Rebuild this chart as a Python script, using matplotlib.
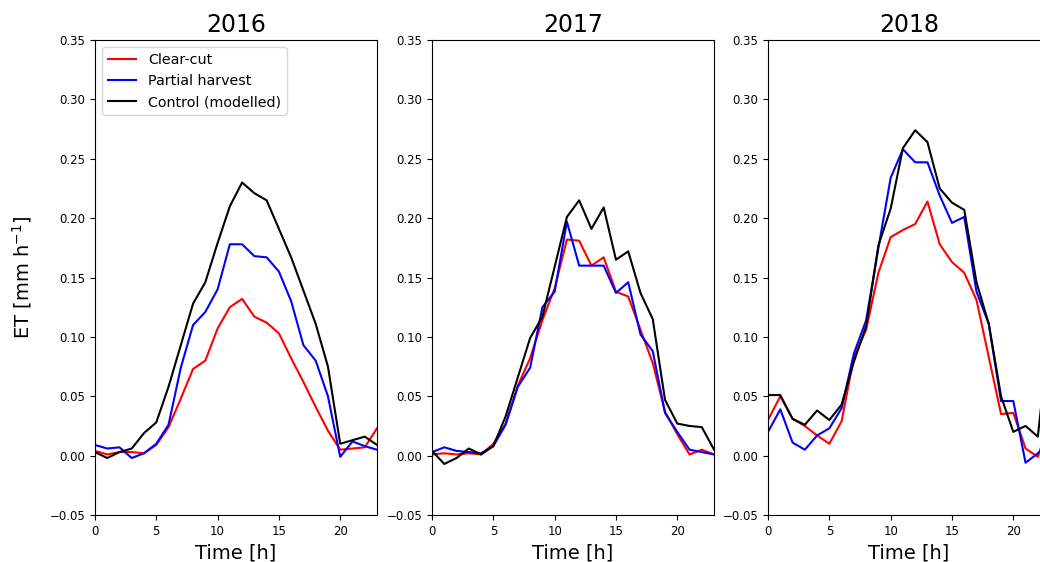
import matplotlib
matplotlib.use("Agg")
import matplotlib.pyplot as plt
import numpy as np

hours = np.arange(24)
years = ["2016", "2017", "2018"]

# ET [mm/h]
clearcut_2016 = [0.004, 0.001, 0.003, 0.003, 0.002, 0.009, 0.024, 0.048, 0.073, 0.080,
                 0.107, 0.125, 0.132, 0.117, 0.112, 0.103, 0.082, 0.062, 0.041, 0.021,
                 0.005, 0.006, 0.007, 0.023]
partial_2016 = [0.009, 0.006, 0.007, -0.002, 0.002, 0.010, 0.026, 0.074, 0.110, 0.121,
                0.140, 0.178, 0.178, 0.168, 0.167, 0.155, 0.130, 0.093, 0.080, 0.050,
                -0.001, 0.012, 0.008, 0.005]
control_2016 = [0.003, -0.002, 0.003, 0.006, 0.019, 0.028, 0.058, 0.093, 0.128, 0.146,
                0.179, 0.210, 0.230, 0.221, 0.215, 0.191, 0.167, 0.139, 0.111, 0.075,
                0.010, 0.013, 0.016, 0.009]

clearcut_2017 = [0.001, 0.002, 0.001, 0.002, 0.001, 0.010, 0.027, 0.059, 0.082, 0.114,
                 0.141, 0.182, 0.181, 0.160, 0.167, 0.138, 0.134, 0.106, 0.078, 0.037,
                 0.018, 0.001, 0.005, 0.001]
partial_2017 = [0.003, 0.007, 0.004, 0.003, 0.002, 0.008, 0.026, 0.058, 0.074, 0.125,
                0.138, 0.197, 0.160, 0.160, 0.160, 0.137, 0.146, 0.102, 0.088, 0.036,
                0.020, 0.005, 0.003, 0.001]
control_2017 = [0.004, -0.007, -0.002, 0.006, 0.001, 0.008, 0.033, 0.066, 0.099, 0.117,
                0.159, 0.201, 0.215, 0.191, 0.209, 0.165, 0.172, 0.137, 0.115, 0.047,
                0.027, 0.025, 0.024, 0.005]

clearcut_2018 = [0.030, 0.050, 0.031, 0.025, 0.017, 0.010, 0.029, 0.083, 0.106, 0.154,
                 0.184, 0.190, 0.195, 0.214, 0.178, 0.163, 0.154, 0.131, 0.083, 0.035,
                 0.036, 0.006, -0.001, 0.030]
partial_2018 = [0.020, 0.039, 0.011, 0.005, 0.017, 0.023, 0.040, 0.086, 0.114, 0.175,
                0.234, 0.258, 0.247, 0.247, 0.219, 0.196, 0.201, 0.138, 0.111, 0.046,
                0.046, -0.006, 0.002, 0.010]
control_2018 = [0.051, 0.051, 0.031, 0.026, 0.038, 0.030, 0.043, 0.079, 0.109, 0.177,
                0.208, 0.259, 0.274, 0.264, 0.225, 0.213, 0.207, 0.146, 0.111, 0.050,
                0.020, 0.025, 0.016, 0.110]

clearcut = [clearcut_2016, clearcut_2017, clearcut_2018]
partial = [partial_2016, partial_2017, partial_2018]
control = [control_2016, control_2017, control_2018]

fig = plt.figure(figsize=(10.4, 5.62), dpi=100)
lefts = [0.0913, 0.4154, 0.7385]
axes = [fig.add_axes([l, 0.0836, 0.2712, 0.8452]) for l in lefts]

for i, ax in enumerate(axes):
    ax.plot(hours, clearcut[i], color="red", lw=1.5, label="Clear-cut")
    ax.plot(hours, partial[i], color="blue", lw=1.5, label="Partial harvest")
    ax.plot(hours, control[i], color="black", lw=1.5, label="Control (modelled)")
    ax.set_xlim(0, 23)
    ax.set_ylim(-0.05, 0.35)
    ax.set_xticks([0, 5, 10, 15, 20])
    ax.set_yticks(np.arange(-0.05, 0.36, 0.05))
    ax.tick_params(labelsize=8.5)
    ax.set_title(years[i], fontsize=17)
    ax.set_xlabel("Time [h]", fontsize=14)

axes[0].set_ylabel("ET [mm h$^{-1}$]", fontsize=14, labelpad=11)
axes[0].legend(loc="upper left", fontsize=10.3)

fig.savefig("out.png", dpi=100)
